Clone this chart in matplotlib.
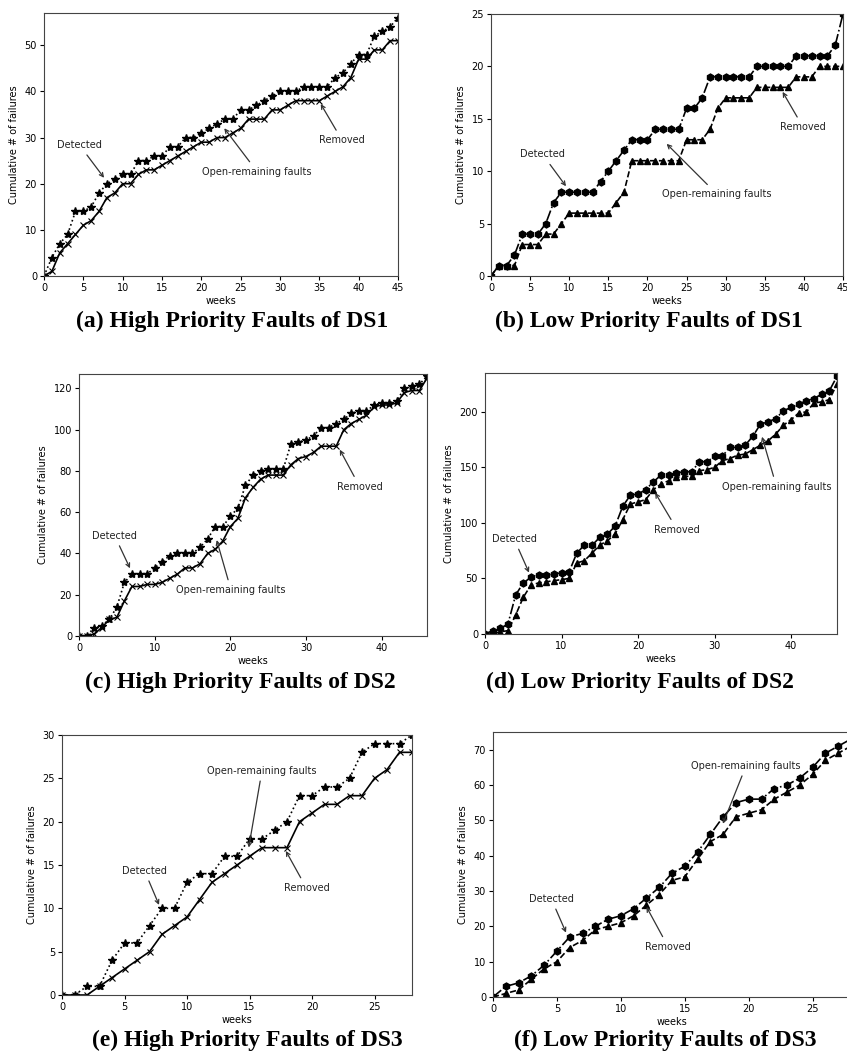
import numpy as np
import matplotlib.pyplot as plt

# (a) High priority faults of DS1
ds1_high_detected = [0, 4, 7, 9, 14, 14, 15, 18, 20, 21, 22, 22, 25, 25, 26, 26, 28, 28, 30, 30,
                     31, 32, 33, 34, 34, 36, 36, 37, 38, 39, 40, 40, 40, 41, 41, 41, 41, 43, 44, 46,
                     48, 48, 52, 53, 54, 56]
ds1_high_removed = [0, 1, 5, 7, 9, 11, 12, 14, 17, 18, 20, 20, 22, 23, 23, 24, 25, 26, 27, 28,
                    29, 29, 30, 30, 31, 32, 34, 34, 34, 36, 36, 37, 38, 38, 38, 38, 39, 40, 41, 43,
                    47, 47, 49, 49, 51, 51]

# (b) Low priority faults of DS1
ds1_low_detected = [0, 1, 1, 2, 4, 4, 4, 5, 7, 8, 8, 8, 8, 8, 9, 10, 11, 12, 13, 13,
                    13, 14, 14, 14, 14, 16, 16, 17, 19, 19, 19, 19, 19, 19, 20, 20, 20, 20, 20, 21,
                    21, 21, 21, 21, 22, 25]
ds1_low_removed = [0, 1, 1, 1, 3, 3, 3, 4, 4, 5, 6, 6, 6, 6, 6, 6, 7, 8, 11, 11,
                   11, 11, 11, 11, 11, 13, 13, 13, 14, 16, 17, 17, 17, 17, 18, 18, 18, 18, 18, 19,
                   19, 19, 20, 20, 20, 20]

# (c) High priority faults of DS2
ds2_high_detected = [0, 0, 4, 5, 8, 14, 26, 30, 30, 30, 33, 36, 39, 40, 40, 40, 43, 47, 53, 53,
                     58, 62, 73, 78, 80, 81, 81, 81, 93, 94, 95, 97, 101, 101, 103, 105, 108, 109, 109, 112,
                     113, 113, 114, 120, 121, 122, 126]
ds2_high_removed = [0, 0, 1, 4, 8, 9, 17, 24, 24, 25, 25, 26, 28, 30, 33, 33, 35, 40, 42, 46,
                    53, 57, 67, 72, 76, 78, 78, 78, 83, 86, 87, 89, 92, 92, 92, 100, 103, 105, 107, 111,
                    112, 112, 113, 118, 119, 119, 125]

# (d) Low priority faults of DS2
ds2_low_detected = [0, 3, 5, 9, 35, 46, 51, 53, 53, 54, 55, 56, 73, 80, 80, 87, 90, 97, 115, 125,
                    126, 130, 137, 143, 143, 145, 146, 146, 155, 155, 160, 160, 168, 168, 170, 178, 189, 191, 194, 201,
                    204, 207, 210, 212, 216, 219, 232]
ds2_low_removed = [0, 0, 2, 3, 17, 33, 44, 46, 47, 48, 49, 50, 64, 66, 73, 80, 84, 90, 103, 117,
                   119, 121, 130, 135, 138, 141, 142, 142, 147, 148, 150, 156, 158, 161, 162, 166, 170, 174, 180, 188,
                   193, 199, 200, 208, 209, 211, 225]

# (e) High priority faults of DS3
ds3_high_detected = [0, 0, 1, 1, 4, 6, 6, 8, 10, 10, 13, 14, 14, 16, 16, 18, 18, 19, 20, 23,
                     23, 24, 24, 25, 28, 29, 29, 29, 30]
ds3_high_removed = [0, 0, 0, 1, 2, 3, 4, 5, 7, 8, 9, 11, 13, 14, 15, 16, 17, 17, 17, 20,
                    21, 22, 22, 23, 23, 25, 26, 28, 28]

# (f) Low priority faults of DS3
ds3_low_detected = [0, 3, 4, 6, 9, 13, 17, 18, 20, 22, 23, 25, 28, 31, 35, 37, 41, 46, 51, 55,
                    56, 56, 59, 60, 62, 65, 69, 71, 73]
ds3_low_removed = [0, 1, 2, 5, 8, 10, 14, 16, 19, 20, 21, 23, 26, 29, 33, 34, 39, 44, 46, 51,
                   52, 53, 56, 58, 60, 63, 67, 69, 71]

captions = ["(a) High Priority Faults of DS1", "(b) Low Priority Faults of DS1",
            "(c) High Priority Faults of DS2", "(d) Low Priority Faults of DS2",
            "(e) High Priority Faults of DS3", "(f) Low Priority Faults of DS3"]

W, H = 847, 1055
fig = plt.figure(figsize=(W / 100, H / 100), dpi=100)


def box(l, t, r, b):
    # pixel box -> figure fraction
    return [l / W, 1 - b / H, (r - l) / W, (b - t) / H]


def panel(rect, det, rem, high, xmax, ymax, notes):
    ax = fig.add_axes(rect)
    weeks = np.arange(len(det))
    if high:
        ax.plot(weeks, det, ':', color='k', marker='*', ms=6, lw=1.2)
        ax.plot(weeks, rem, '-', color='k', marker='x', ms=5, mew=0.8, lw=1.2)
    else:
        ax.plot(weeks, det, '-.', color='k', marker='h', ms=5, lw=1.2)
        ax.plot(weeks, rem, '--', color='k', marker='^', ms=5, lw=1.2)
    ax.set_xlim(0, xmax)
    ax.set_ylim(0, ymax)
    ax.set_xlabel("weeks", fontsize=7, labelpad=2)
    ax.set_ylabel("Cumulative # of failures", fontsize=7)
    ax.tick_params(labelsize=7, length=3, pad=2)
    for s in ax.spines.values():
        s.set_color('#444444')
    for txt, xy, xyt in notes:
        ax.annotate(txt, xy=xy, xytext=xyt, fontsize=7, color='#222222',
                    ha='center', va='center',
                    arrowprops=dict(arrowstyle='->', color='#333333', lw=0.9))
    return ax


panel(box(44, 13, 398, 276), ds1_high_detected, ds1_high_removed, True, 45, 57,
      [("Detected", (7.85, 20.8), (4.5, 28.4)),
       ("Open-remaining faults", (22.7, 32.5), (27.1, 22.6)),
       ("Removed", (35, 37.8), (37.9, 29.4))])
panel(box(491, 14, 843, 276), ds1_low_detected, ds1_low_removed, False, 45, 25,
      [("Detected", (9.8, 8.35), (6.6, 11.6)),
       ("Open-remaining faults", (22.2, 12.8), (28.9, 7.8)),
       ("Removed", (37.1, 17.8), (39.9, 14.2))])
panel(box(79, 374, 427, 636), ds2_high_detected, ds2_high_removed, True, 46, 127,
      [("Detected", (6.9, 31.6), (4.7, 48.7)),
       ("Open-remaining faults", (18.1, 47.8), (20.1, 22.2)),
       ("Removed", (34.3, 91.5), (37.1, 72.4))])
panel(box(485, 373, 837, 634), ds2_low_detected, ds2_low_removed, False, 46, 235,
      [("Detected", (5.9, 53), (3.8, 85.6)),
       ("Removed", (22.05, 129.3), (25.1, 94)),
       ("Open-remaining faults", (36.1, 180), (38.1, 132.6))])
panel(box(62, 735, 412, 995), ds3_high_detected, ds3_high_removed, True, 28, 30,
      [("Detected", (7.85, 10.1), (6.6, 14.35)),
       ("Open-remaining faults", (14.9, 16.7), (16, 25.9)),
       ("Removed", (17.8, 16.9), (19.55, 12.35))])
panel(box(493, 732, 851, 997), ds3_low_detected, ds3_low_removed, False, 28, 75,
      [("Detected", (5.8, 17.5), (4.56, 27.8)),
       ("Removed", (11.9, 26.2), (13.7, 14.2)),
       ("Open-remaining faults", (17.9, 48.3), (19.8, 65.5))])

# captions under each panel
cap_pos = [(232, 321), (649, 321), (240, 682), (640, 682), (247, 1040), (665, 1040)]
for c, (px, py) in zip(captions, cap_pos):
    fig.text(px / W, 1 - py / H, c, ha='center', va='center', fontsize=17,
             fontweight='bold', family='Liberation Serif')

fig.savefig("out.png", dpi=100)
